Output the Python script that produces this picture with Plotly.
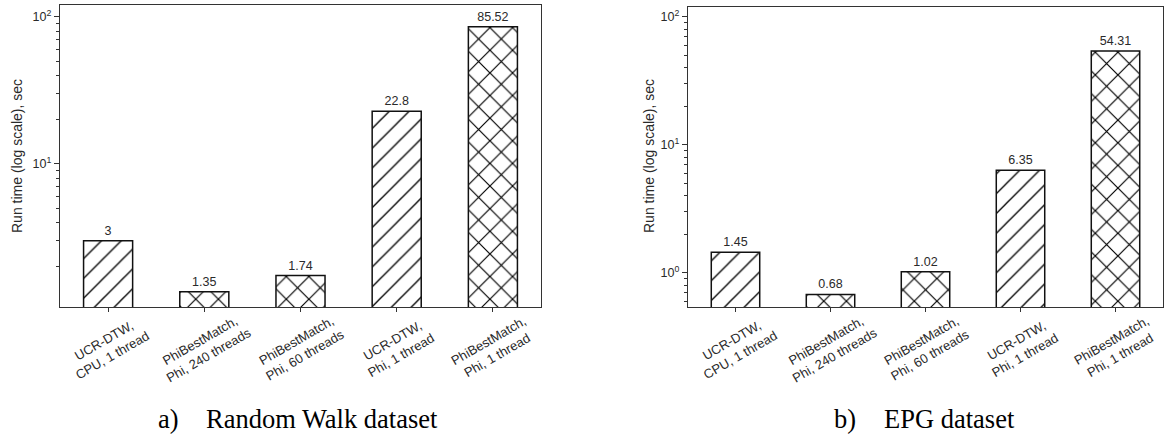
import plotly.graph_objects as go

# ---------------- data ----------------
categories = [
    "UCR-DTW, CPU, 1 thread",
    "PhiBestMatch, Phi, 240 threads",
    "PhiBestMatch, Phi, 60 threads",
    "UCR-DTW, Phi, 1 thread",
    "PhiBestMatch, Phi, 1 thread",
]
label_line1 = ["UCR-DTW,", "PhiBestMatch,", "PhiBestMatch,", "UCR-DTW,", "PhiBestMatch,"]
label_line2 = ["CPU, 1 thread", "Phi, 240 threads", "Phi, 60 threads", "Phi, 1 thread", "Phi, 1 thread"]
hatch = ["/", "x", "x", "/", "x"]

rw_values = [3, 1.35, 1.74, 22.8, 85.52]
rw_labels = ["3", "1.35", "1.74", "22.8", "85.52"]
epg_values = [1.45, 0.68, 1.02, 6.35, 54.31]
epg_labels = ["1.45", "0.68", "1.02", "6.35", "54.31"]

rw_tickvals = [10, 100]
rw_ticktext = ["10<sup>1</sup>", "10<sup>2</sup>"]
epg_tickvals = [1, 10, 100]
epg_ticktext = ["10<sup>0</sup>", "10<sup>1</sup>", "10<sup>2</sup>"]
minor_ticks = [m * 10 ** e for e in (-1, 0, 1) for m in range(2, 10)]

y_title = "Run time (log scale), sec"
caption_a = ("a)", "Random Walk dataset")
caption_b = ("b)", "EPG dataset")

# ---------------- layout helpers ----------------
W, H = 1164, 438
def fx(p):
    return p / W
def fy(p):
    return 1 - p / H

LINE = "#333333"
TXT = "#2a2a2a"
SANS = "Arial, Liberation Sans, sans-serif"
SERIF = "Times New Roman, Liberation Serif, serif"

pat_size = [14 if h == "/" else 16 for h in hatch]
pat_solid = [(1.35 if h == "/" else 2.3) / s for h, s in zip(hatch, pat_size)]

def bar_trace(values, labels, xa, ya):
    return go.Bar(
        x=categories, y=values, text=labels,
        textposition="outside", cliponaxis=False, constraintext="none",
        textfont=dict(family=SANS, size=12.5, color=TXT),
        marker=dict(
            color="white",
            line=dict(color="#111111", width=1.5),
            pattern=dict(shape=hatch, fgcolor="#000000", bgcolor="white",
                         size=pat_size, solidity=pat_solid, fgopacity=1),
        ),
        xaxis=xa, yaxis=ya, showlegend=False, hoverinfo="skip",
    )

fig = go.Figure()
fig.add_trace(bar_trace(rw_values, rw_labels, "x", "y"))
fig.add_trace(bar_trace(epg_values, epg_labels, "x2", "y2"))

def xaxis(domain, anchor):
    return dict(domain=domain, anchor=anchor, type="category",
                showline=True, mirror=True, linecolor=LINE, linewidth=1.2,
                ticks="outside", ticklen=4, tickcolor=LINE, tickwidth=1,
                showticklabels=False, showgrid=False, zeroline=False)

def yaxis(domain, anchor, rng, tv, tt):
    return dict(domain=domain, anchor=anchor, type="log", range=rng,
                tickmode="array", tickvals=tv, ticktext=tt,
                ticks="outside", ticklen=5, tickcolor=LINE, tickwidth=1,
                tickfont=dict(family=SANS, size=12.5, color=TXT),
                minor=dict(tickmode="array", tickvals=minor_ticks, ticks="outside",
                           ticklen=3, tickcolor=LINE, tickwidth=1, showgrid=False),
                showline=True, mirror=True, linecolor=LINE, linewidth=1.2,
                showgrid=False, zeroline=False)

annotations = []
# category labels
for xa in ("x", "x2"):
    for i, c in enumerate(categories):
        annotations.append(dict(
            x=c, xref=xa, y=fy(348), yref="paper",
            text=label_line1[i] + "<br>" + label_line2[i],
            textangle=-30, showarrow=False, xanchor="center", yanchor="middle",
            align="center", font=dict(family=SANS, size=13, color=TXT)))
# y titles
for xp in (17, 649):
    annotations.append(dict(
        x=fx(xp), xref="paper", y=fy(156), yref="paper", text=y_title,
        textangle=-90, showarrow=False, xanchor="center", yanchor="middle",
        font=dict(family=SANS, size=14, color=TXT)))
# captions
for (lab, name), xl, xn in ((caption_a, 156, 204), (caption_b, 832, 882)):
    annotations.append(dict(x=fx(xl), xref="paper", y=fy(419), yref="paper", text=lab,
                            showarrow=False, xanchor="left", yanchor="middle",
                            font=dict(family=SERIF, size=26.5, color="black")))
    annotations.append(dict(x=fx(xn), xref="paper", y=fy(419), yref="paper", text=name,
                            showarrow=False, xanchor="left", yanchor="middle",
                            font=dict(family=SERIF, size=26.5, color="black")))

fig.update_layout(
    width=W, height=H, autosize=False,
    margin=dict(l=0, r=0, t=0, b=0, pad=0),
    paper_bgcolor="white", plot_bgcolor="white",
    bargap=0.49,
    xaxis=xaxis([fx(60), fx(541)], "y"),
    yaxis=yaxis([fy(307), fy(5)], "x", [0.027, 2.08], rw_tickvals, rw_ticktext),
    xaxis2=xaxis([fx(688), fx(1163)], "y2"),
    yaxis2=yaxis([fy(307), fy(7)], "x2", [-0.266, 2.078], epg_tickvals, epg_ticktext),
    annotations=annotations,
)

fig.write_html("out.html", config={"displayModeBar": False},
               post_script="document.body.style.margin='0px';document.body.style.overflow='hidden';")
